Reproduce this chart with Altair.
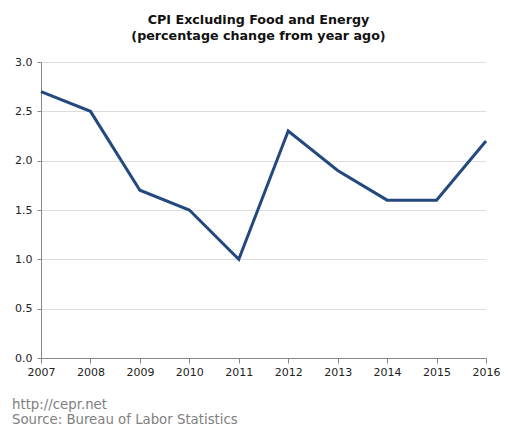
import altair as alt
import pandas as pd

years = [2007, 2008, 2009, 2010, 2011, 2012, 2013, 2014, 2015, 2016]
cpi = [2.7, 2.5, 1.7, 1.5, 1.0, 2.3, 1.9, 1.6, 1.6, 2.2]
title_lines = ["CPI Excluding Food and Energy", "(percentage change from year ago)"]
footer_lines = ["http://cepr.net", "Source: Bureau of Labor Statistics"]

df = pd.DataFrame({"year": years, "cpi": cpi})

FONT = "DejaVu Sans"

line = alt.Chart(df).mark_line(color="#24497f", strokeWidth=3).encode(
    x=alt.X("year:Q", scale=alt.Scale(domain=[2007, 2016], nice=False, zero=False),
            axis=alt.Axis(values=years, format="d", title=None, grid=False,
                          labelFontSize=11, labelColor="#222", labelFont=FONT,
                          domainColor="#888", tickColor="#888", tickSize=5,
                          labelPadding=3, labelFlush=False)),
    y=alt.Y("cpi:Q", scale=alt.Scale(domain=[0, 3], nice=False),
            axis=alt.Axis(values=[0, 0.5, 1, 1.5, 2, 2.5, 3], format=".1f", title=None,
                          grid=True, gridColor="#dcdcdc", labelFontSize=11,
                          labelColor="#222", labelFont=FONT, domainColor="#888",
                          tickColor="#888", tickSize=4, labelPadding=5)),
)

def foot_text(txt, ypos):
    return alt.Chart(pd.DataFrame({"t": [txt]})).mark_text(
        align="left", baseline="alphabetic", font=FONT, fontSize=13.3, color="#808080"
    ).encode(x=alt.value(-29), y=alt.value(ypos), text="t:N")

chart = alt.layer(line, foot_text(footer_lines[0], 347), foot_text(footer_lines[1], 362)).properties(
    width=445, height=296,
    title=alt.TitleParams(text=title_lines, font=FONT, fontSize=12.7, fontWeight="bold",
                          color="#111", anchor="middle", dx=-5, offset=13, lineHeight=16),
    autosize=alt.AutoSizeParams(type="none"),
    padding={"left": 33, "top": 54, "right": 15, "bottom": 70},
).configure_view(stroke=None)

chart.save("out.html", embed_options={"renderer": "svg", "actions": False})
